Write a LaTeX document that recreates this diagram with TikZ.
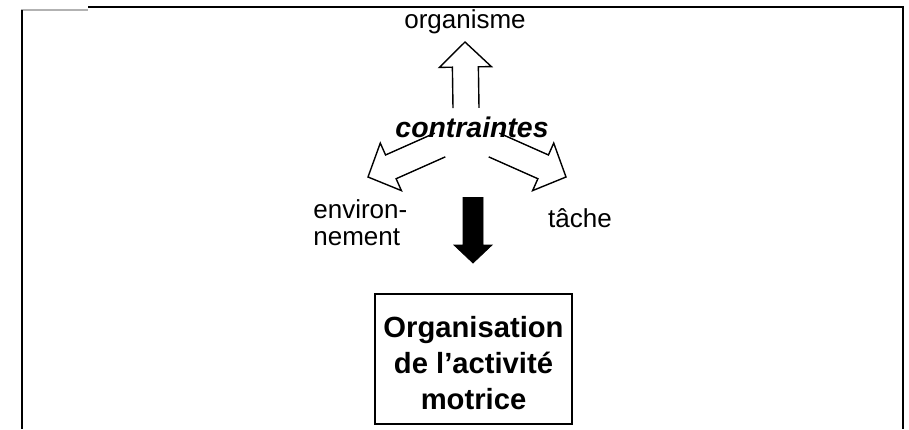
\documentclass[tikz,border=0pt]{standalone}
\usepackage{fontspec}
\setmainfont{Liberation Sans}
\usetikzlibrary{calc}

\newcommand{\fatarrow}[6][]{%
\coordinate (fatbase) at ($(#3)!#6!(#2)$);
\draw[#1] ($(#2)!#4!90:(#3)$) -- ($(fatbase)!#4!90:(#3)$) -- ($(fatbase)!#5!90:(#3)$) -- (#3) -- ($(fatbase)!#5!-90:(#3)$) -- ($(fatbase)!#4!-90:(#3)$) -- ($(#2)!#4!-90:(#3)$);
}

\begin{document}
\begin{tikzpicture}[x = 0.5pt, y = -0.5pt,
  labeltext/.style = {font = \fontsize{13}{13.5}\selectfont, inner sep = 0},
  boxtext/.style = {draw, line width = 1pt, inner sep = 0, minimum width = 98.5pt, minimum height = 65pt, align = center, font = \fontsize{14.6}{18}\selectfont\bfseries}]
\useasboundingbox (0,0) rectangle (909,429);
\draw[gray!60, line width = 1.2pt] (21,10) -- (88,10);
\draw[line width = 0.9pt] (88,7) -- (903,7) -- (903,429);
\draw[line width = 1pt] (22,10) -- (22,429);
\node[labeltext, anchor = base] (org) at (465,28) {organisme};
\node[inner sep = 0, anchor = base, font = \fontsize{14.2}{16}\selectfont\bfseries\itshape] (cont) at (472,137) {contraintes};
\node[labeltext, anchor = north west, align = left] (env) at (313,199) {environ-\\nement};
\node[labeltext, anchor = base] (tache) at (580,227) {tâche};
\node[boxtext] (act) at (473.5,359) {\rule{0pt}{14.5pt}Organisation\\de l’activité\\motrice};
\coordinate (uptail) at (466,108);
\coordinate (uptip) at (465,42);
\coordinate (envtail) at (440,145);
\coordinate (envtip) at (368,177);
\coordinate (tachetail) at (494,145);
\coordinate (tachetip) at (566,177);
\coordinate (acttail) at (473,197);
\coordinate (acttip) at (473,263);
\fatarrow[line width = 0.7pt]{uptail}{uptip}{6.5pt}{13pt}{12.5pt}
\fatarrow[line width = 0.7pt]{envtail}{envtip}{6.5pt}{13pt}{12.5pt}
\fatarrow[line width = 0.7pt]{tachetail}{tachetip}{6.5pt}{13pt}{12.5pt}
\fatarrow[fill = black]{acttail}{acttip}{5pt}{9.5pt}{9pt}
\end{tikzpicture}
\end{document}
